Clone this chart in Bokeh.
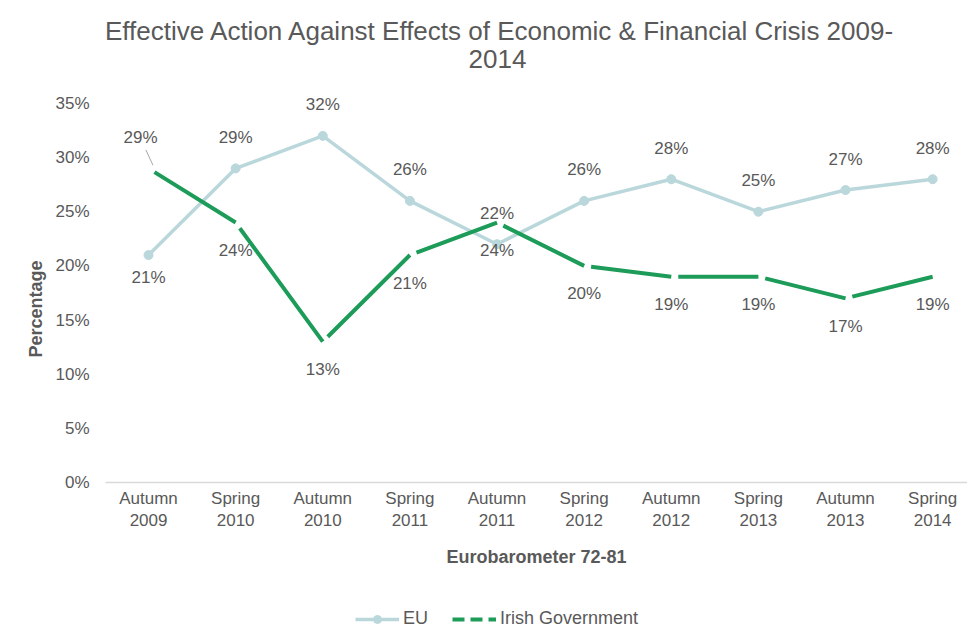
from bokeh.plotting import figure
from bokeh.layouts import column
from bokeh.models import ColumnDataSource, Legend, LegendItem, Label, Title, FixedTicker, Range1d
from bokeh.core.properties import value
from bokeh.embed import file_html
from bokeh.resources import INLINE

waves = ["Autumn 2009", "Spring 2010", "Autumn 2010", "Spring 2011", "Autumn 2011",
         "Spring 2012", "Autumn 2012", "Spring 2013", "Autumn 2013", "Spring 2014"]
eu = [21, 29, 32, 26, 22, 26, 28, 25, 27, 28]
irish = [29, 24, 13, 21, 24, 20, 19, 19, 17, 19]
eu_label_pos = ["below", "above", "above", "above", "above", "above", "above", "above", "above", "above"]
irish_label_pos = ["leader", "below", "below", "below", "below", "below", "below", "below", "below", "below"]
y_ticks = [0, 5, 10, 15, 20, 25, 30, 35]
title_lines = ["Effective Action Against Effects of Economic & Financial Crisis 2009-", "2014"]

FONT = "Liberation Sans"
GREY = "#595959"
EU_COL = "#bad7db"
IR_COL = "#1c9c58"

idx = list(range(len(waves)))

# frame reaches the top of the canvas so the title can sit inside it
p = figure(width=967, height=600, output_backend="svg", toolbar_location=None,
           x_range=Range1d(-0.494, 9.40), y_range=Range1d(0, 44.5),
           min_border_left=105, min_border_right=0, min_border_top=0, min_border_bottom=118)
p.outline_line_color = None
p.grid.grid_line_color = None

# axes
p.xaxis.ticker = FixedTicker(ticks=idx)
p.xaxis.major_label_overrides = {i: w.replace(" ", "\n") for i, w in zip(idx, waves)}
p.xaxis.major_tick_line_color = None
p.xaxis.minor_tick_line_color = None
p.xaxis.axis_line_color = "#d9d9d9"
p.xaxis.axis_line_width = 1.5
p.xaxis.major_label_text_font = FONT
p.xaxis.major_label_text_font_size = "17px"
p.xaxis.major_label_text_color = GREY
p.xaxis.major_label_standoff = 0
p.xaxis.axis_label = "Eurobarometer 72-81"
p.xaxis.axis_label_text_font = FONT
p.xaxis.axis_label_text_font_size = "18px"
p.xaxis.axis_label_text_font_style = "bold"
p.xaxis.axis_label_text_color = GREY
p.xaxis.axis_label_standoff = 14

p.yaxis.ticker = FixedTicker(ticks=y_ticks)
p.yaxis.major_label_overrides = {t: f"{t}%" for t in y_ticks}
p.yaxis.major_tick_line_color = None
p.yaxis.minor_tick_line_color = None
p.yaxis.axis_line_color = None
p.yaxis.major_label_text_font = FONT
p.yaxis.major_label_text_font_size = "17px"
p.yaxis.major_label_text_color = GREY
p.yaxis.major_label_standoff = 10

# y-axis title as a side title so it can be centred on the 0-35% span
p.add_layout(Title(text="Percentage", text_font=FONT, text_font_size="18px",
                   text_font_style="bold", text_color=GREY, align="left", offset=125,
                   standoff=14), "left")

# two-line title (screen units relative to the plot frame, y upwards)
for txt, sx, sy in zip(title_lines, [395, 392], [452, 424]):
    p.add_layout(Label(x=sx, y=sy, x_units="screen", y_units="screen", text=txt,
                       text_align="center", text_baseline="middle", text_font=FONT,
                       text_font_size="26px", text_color=GREY))

# EU line
src_eu = ColumnDataSource(dict(x=idx, y=eu))
p.line("x", "y", source=src_eu, line_color=EU_COL, line_width=3.5)
p.scatter("x", "y", source=src_eu, size=9, marker="circle", fill_color=EU_COL, line_color=EU_COL)

# Irish government line: dashed, each segment with a gap at its start
p.segment(x0=idx[:-1], y0=irish[:-1], x1=idx[1:], y1=irish[1:],
          line_color=IR_COL, line_width=4, line_dash="0 7 3000 0", line_cap="butt")

# data labels
def offs(pos, up, down):
    return [up if q == "above" else (down if q == "below" else 0) for q in pos]

eu_lab = ColumnDataSource(dict(x=idx, y=eu, t=[f"{v}%" for v in eu],
                               dy=offs(eu_label_pos, -31, 22)))
p.text("x", "y", text="t", source=eu_lab, y_offset="dy", text_align="center",
       text_baseline="middle", text_font=value(FONT), text_font_size="17px", text_color=GREY)

ir_main = [i for i, q in enumerate(irish_label_pos) if q != "leader"]
ir_lab = ColumnDataSource(dict(x=[idx[i] for i in ir_main], y=[irish[i] for i in ir_main],
                               t=[f"{irish[i]}%" for i in ir_main],
                               dy=[28 for i in ir_main]))
p.text("x", "y", text="t", source=ir_lab, y_offset="dy", text_align="center",
       text_baseline="middle", text_font=value(FONT), text_font_size="17px", text_color=GREY)

ir_lead = [i for i, q in enumerate(irish_label_pos) if q == "leader"]
lead_src = ColumnDataSource(dict(x=[idx[i] for i in ir_lead], y=[irish[i] for i in ir_lead],
                                 t=[f"{irish[i]}%" for i in ir_lead]))
p.text("x", "y", text="t", source=lead_src, x_offset=-8, y_offset=-31, text_align="center",
       text_baseline="middle", text_font=value(FONT), text_font_size="17px", text_color=GREY)
p.segment(x0=[idx[i] - 0.03 for i in ir_lead], y0=[irish[i] + 1.7 for i in ir_lead],
          x1=[idx[i] + 0.05 for i in ir_lead], y1=[irish[i] + 0.3 for i in ir_lead],
          line_color="#a6a6a6", line_width=1)

# legend strip: a second figure whose frame fills it; its series lie outside its ranges
lg = figure(width=967, height=30, output_backend="svg", toolbar_location=None,
            x_range=Range1d(-100, -99), y_range=Range1d(-100, -99),
            min_border_left=0, min_border_right=0, min_border_top=0, min_border_bottom=0)
lg.axis.visible = False
lg.grid.grid_line_color = None
lg.outline_line_color = None
l_eu = lg.line(idx, eu, line_color=EU_COL, line_width=3.5)
l_eu_pts = lg.scatter(idx, eu, size=9, marker="circle", fill_color=EU_COL, line_color=EU_COL)
l_ir = lg.line(idx, irish, line_color=IR_COL, line_width=4, line_dash="12 6")
legend = Legend(items=[LegendItem(label="EU", renderers=[l_eu, l_eu_pts]),
                       LegendItem(label="Irish Government", renderers=[l_ir])],
                orientation="horizontal", location=(250, 1), border_line_color=None,
                background_fill_alpha=0, label_text_font=FONT, label_text_font_size="18px",
                label_text_color=GREY, glyph_width=44, label_standoff=4, spacing=24,
                padding=0, margin=0)
lg.add_layout(legend, "center")

layout = column(p, lg, spacing=0)
open("out.html", "w").write(file_html(layout, INLINE))
